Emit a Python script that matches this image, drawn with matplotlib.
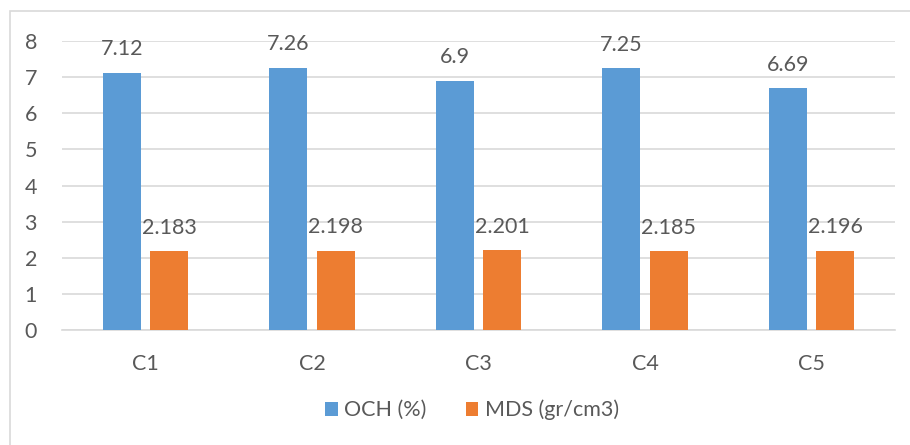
import numpy as np
import matplotlib.pyplot as plt
from matplotlib.patches import Rectangle

categories = ['C1', 'C2', 'C3', 'C4', 'C5']
och = [7.12, 7.26, 6.9, 7.25, 6.69]
mds = [2.183, 2.198, 2.201, 2.185, 2.196]
yticks = [0, 1, 2, 3, 4, 5, 6, 7, 8]

blue = '#5b9bd5'
orange = '#ed7d31'
txt = '#595959'
grid = '#d9d9d9'

plt.rcParams['font.family'] = ['Lato', 'DejaVu Sans']
fs = 15.5

fig = plt.figure(figsize=(9.1, 4.45), dpi=100)
# chart frame (left/top edges visible)
fig.patches.append(Rectangle((10 / 910, -0.1), 1.2, 1 - 11 / 445 + 0.1,
                             transform=fig.transFigure, fill=False,
                             edgecolor=grid, linewidth=1.2))

ax = fig.add_axes([62 / 910, 1 - 330 / 445, (895 - 62) / 910, (330 - 41) / 445])
x = np.arange(len(categories))
w = 0.228
off = 0.142
b1 = ax.bar(x - off, och, w, color=blue, label='OCH (%)', zorder=3)
b2 = ax.bar(x + off, mds, w, color=orange, label='MDS (gr/cm3)', zorder=3)

for bars, vals in ((b1, och), (b2, mds)):
    for r, v in zip(bars, vals):
        ax.annotate(f'{v:g}', (r.get_x() + r.get_width() / 2, v),
                    xytext=(0, 12.5), textcoords='offset points',
                    ha='center', va='baseline', fontsize=fs, color=txt)

ax.set_xlim(-0.5, len(categories) - 0.5)
ax.set_ylim(0, 8)
ax.set_yticks(yticks)
ax.set_xticks(x)
ax.set_xticklabels(categories)
ax.tick_params(axis='both', length=0, labelsize=fs, labelcolor=txt)
ax.tick_params(axis='x', pad=17)
ax.tick_params(axis='y', pad=18)
ax.yaxis.grid(True, color=grid, linewidth=1.2, zorder=0)
for s in ('top', 'right', 'left'):
    ax.spines[s].set_visible(False)
ax.spines['bottom'].set_color(grid)
ax.spines['bottom'].set_linewidth(1.2)

fig.legend(loc='center', bbox_to_anchor=(472 / 910, 1 - 410 / 445), ncol=2,
           frameon=False, fontsize=fs, labelcolor=txt, handlelength=0.6,
           handleheight=0.6, handletextpad=0.3, columnspacing=1.8)

fig.savefig('out.png', dpi=100)
